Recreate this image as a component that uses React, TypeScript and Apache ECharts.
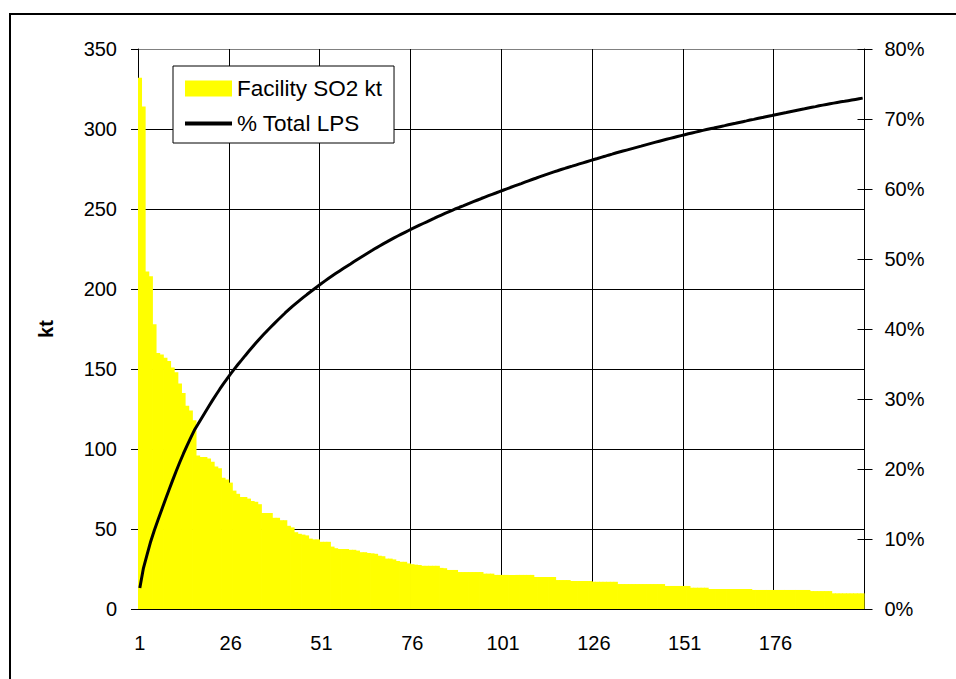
import React, { useEffect, useRef } from "react";
import * as echarts from "echarts";

// Facility rank (1..200)
const ranks: string[] = Array.from({ length: 200 }, (_, i) => String(i + 1));

// Facility SO2 emissions, kt
const facilitySO2: number[] = [
  332, 314, 211, 208, 178, 160, 159, 157, 155, 151,
  148, 141, 135, 127, 124, 118, 96, 95, 95, 94,
  92, 89, 88, 82, 81, 79, 74, 72, 70, 70,
  69, 67.5, 67, 65.5, 60, 60, 60, 57, 57, 55.5,
  55.5, 52, 51, 48, 47, 46.5, 46, 44, 43.5, 43.5,
  42, 42, 42, 39, 38, 37.5, 37.5, 37.5, 37, 37,
  36.5, 35.5, 35.5, 35, 34.8, 34.5, 33.3, 33, 31.5, 31.5,
  31, 30, 29.5, 29.5, 28.5, 28, 27.7, 27.5, 27, 27,
  27, 27, 27, 25.7, 25.5, 24.4, 24.4, 24.4, 23.1, 23.1,
  23.1, 23.1, 23.1, 23.1, 23.1, 22.1, 22.1, 22.1, 21.3, 21.3,
  21.3, 21.3, 21.3, 21.3, 21.3, 21.3, 21.3, 21.3, 21.3, 20,
  20, 20, 20, 20, 20, 18.1, 18.1, 18.1, 18.1, 17.5,
  17.5, 17.5, 17.5, 17.5, 17.5, 17, 17, 17, 17, 17,
  17, 17, 15.6, 15.6, 15.6, 15.6, 15.6, 15.6, 15.6, 15.6,
  15.6, 15.6, 15.6, 15.6, 15.6, 14.4, 14.4, 14.4, 14.4, 14.4,
  14.4, 14.4, 13.3, 13.3, 13.3, 13.3, 13.3, 12.5, 12.5, 12.5,
  12.5, 12.5, 12.5, 12.5, 12.5, 12.5, 12.5, 12.5, 12.5, 11.9,
  11.9, 11.9, 11.9, 11.9, 11.9, 11.9, 11.9, 11.9, 11.9, 11.9,
  11.9, 11.9, 11.9, 11.9, 11.9, 11.2, 11.2, 11.2, 11.2, 11.2,
  11.2, 9.8, 9.8, 9.8, 9.8, 9.8, 9.8, 9.8, 9.8, 9.8,
];

// % of total LPS (cumulative share)
const pctTotalLPS: number[] = [
  3.01, 5.85, 7.76, 9.65, 11.26, 12.71, 14.15, 15.57, 16.97, 18.34,
  19.68, 20.96, 22.18, 23.33, 24.46, 25.53, 26.39, 27.26, 28.12, 28.97,
  29.8, 30.61, 31.4, 32.15, 32.88, 33.6, 34.27, 34.92, 35.55, 36.19,
  36.81, 37.42, 38.03, 38.62, 39.17, 39.71, 40.25, 40.77, 41.29, 41.79,
  42.29, 42.76, 43.22, 43.66, 44.09, 44.51, 44.92, 45.32, 45.72, 46.11,
  46.49, 46.87, 47.25, 47.6, 47.95, 48.29, 48.63, 48.97, 49.3, 49.64,
  49.97, 50.29, 50.61, 50.93, 51.24, 51.56, 51.86, 52.16, 52.44, 52.73,
  53.01, 53.28, 53.55, 53.81, 54.07, 54.33, 54.58, 54.83, 55.07, 55.31,
  55.56, 55.8, 56.05, 56.28, 56.51, 56.73, 56.95, 57.18, 57.39, 57.59,
  57.8, 58.01, 58.22, 58.43, 58.64, 58.84, 59.04, 59.24, 59.43, 59.63,
  59.82, 60.01, 60.21, 60.4, 60.59, 60.78, 60.98, 61.17, 61.36, 61.54,
  61.73, 61.91, 62.09, 62.27, 62.45, 62.61, 62.78, 62.94, 63.11, 63.26,
  63.42, 63.58, 63.74, 63.9, 64.06, 64.21, 64.36, 64.52, 64.67, 64.83,
  64.98, 65.14, 65.28, 65.42, 65.56, 65.7, 65.84, 65.98, 66.12, 66.27,
  66.41, 66.55, 66.69, 66.83, 66.97, 67.1, 67.23, 67.36, 67.49, 67.62,
  67.75, 67.89, 68.01, 68.13, 68.25, 68.37, 68.49, 68.6, 68.71, 68.83,
  68.94, 69.05, 69.17, 69.28, 69.39, 69.51, 69.62, 69.73, 69.85, 69.95,
  70.06, 70.17, 70.28, 70.39, 70.49, 70.6, 70.71, 70.82, 70.92, 71.03,
  71.14, 71.25, 71.36, 71.46, 71.57, 71.67, 71.77, 71.88, 71.98, 72.08,
  72.18, 72.27, 72.36, 72.45, 72.53, 72.62, 72.71, 72.8, 72.89, 72.98,
];

const FONT = "Liberation Sans, Arial, sans-serif";

export default function App() {
  const ref = useRef<HTMLDivElement>(null);

  useEffect(() => {
    if (!ref.current) return;
    const chart = echarts.init(ref.current, undefined, { renderer: "svg" });
    const labelStyle = { color: "#000", fontSize: 20, fontFamily: FONT };
    chart.setOption({
      animation: false,
      backgroundColor: "#fff",
      grid: { left: 138, top: 49, right: 91.5, bottom: 70, containLabel: false },
      legend: {
        orient: "vertical",
        left: 173,
        top: 66,
        itemWidth: 47,
        itemHeight: 16,
        itemGap: 12,
        padding: [11, 12, 8, 10],
        borderColor: "#000",
        borderWidth: 1,
        backgroundColor: "#fff",
        textStyle: { color: "#000", fontSize: 22.5, fontFamily: FONT },
        data: [
          { name: "Facility SO2 kt", icon: "rect" },
          {
            name: "% Total LPS",
            itemStyle: { opacity: 0 },
            lineStyle: { width: 4, color: "#000" },
          },
        ],
        z: 10,
      },
      graphic: [
        {
          type: "rect",
          silent: true,
          shape: { x: 10, y: 14, width: 1000, height: 1000 },
          style: { fill: "none", stroke: "#000", lineWidth: 2 },
        },
      ],
      xAxis: {
        type: "category",
        data: ranks,
        boundaryGap: true,
        axisLine: { show: true, lineStyle: { color: "#000", width: 1 } },
        axisTick: { show: false, interval: 24 },
        axisLabel: { ...labelStyle, interval: 24, margin: 24 },
        splitLine: { show: true, interval: 24, lineStyle: { color: "#000", width: 1 } },
      },
      yAxis: [
        {
          type: "value",
          position: "left",
          min: 0,
          max: 350,
          interval: 50,
          name: "kt",
          nameLocation: "middle",
          nameGap: 82,
          nameRotate: 90,
          nameTextStyle: { color: "#000", fontSize: 20, fontWeight: "bold", fontFamily: FONT },
          axisLine: { show: true, lineStyle: { color: "#000", width: 1 } },
          axisTick: { show: true, length: 7, lineStyle: { color: "#000" } },
          axisLabel: { ...labelStyle, margin: 21 },
          splitLine: {
            show: true,
            lineStyle: {
              color: ["#000", "#000", "#000", "#000", "#000", "#000", "#000", "#808080"],
              width: 1,
            },
          },
        },
        {
          type: "value",
          position: "right",
          min: 0,
          max: 80,
          interval: 10,
          axisLine: { show: true, lineStyle: { color: "#000", width: 1 } },
          axisTick: { show: true, length: 8, lineStyle: { color: "#000" } },
          axisLabel: { ...labelStyle, margin: 20, formatter: "{value}%" },
          splitLine: { show: false },
        },
        {
          type: "value",
          position: "right",
          min: 0,
          max: 80,
          interval: 10,
          axisLine: { show: false },
          axisTick: { show: true, inside: true, length: 7, lineStyle: { color: "#000" } },
          axisLabel: { show: false },
          splitLine: { show: false },
        },
      ],
      series: [
        {
          name: "Facility SO2 kt",
          type: "bar",
          yAxisIndex: 0,
          data: facilitySO2,
          barWidth: 4.4,
          itemStyle: { color: "#ffff00" },
          z: 2,
        },
        {
          name: "% Total LPS",
          type: "line",
          yAxisIndex: 1,
          data: pctTotalLPS,
          symbol: "none",
          showSymbol: false,
          lineStyle: { color: "#000", width: 3 },
          itemStyle: { color: "#000" },
          z: 3,
        },
      ],
    });
    return () => chart.dispose();
  }, []);

  return (
    <div
      ref={ref}
      style={{ position: "fixed", left: 0, top: 0, width: 956, height: 679 }}
    />
  );
}
